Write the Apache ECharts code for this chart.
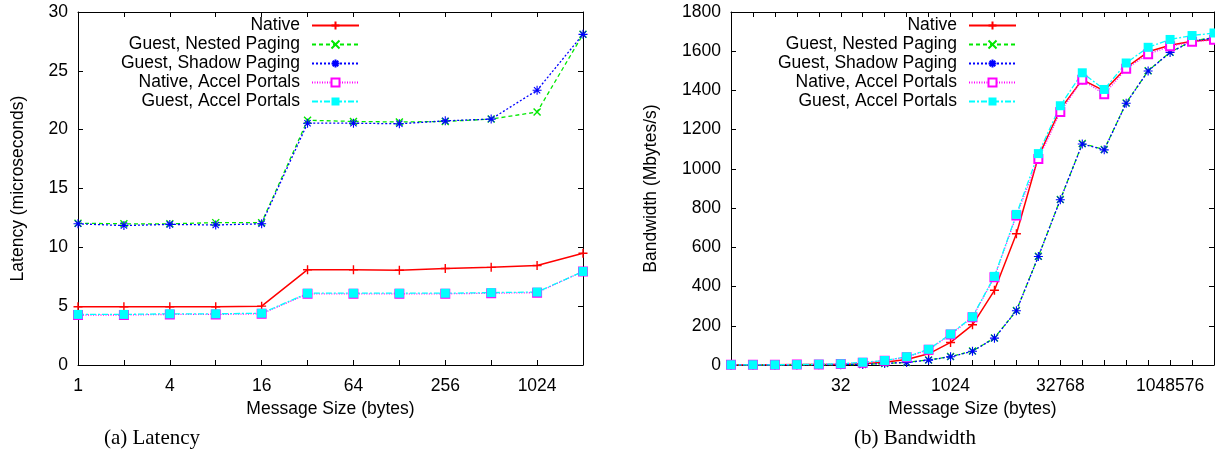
<!DOCTYPE html>
<html>
<head>
<meta charset="utf-8">
<script src="https://cdn.jsdelivr.net/npm/echarts@6/dist/echarts.min.js"></script>
<style>
html, body { margin: 0; padding: 0; background: #fff; }
#chart { width: 1215px; height: 455px; }
</style>
</head>
<body>
<div id="chart"></div>
<script>
// message sizes (bytes)
const latSizes = ['1', '2', '4', '8', '16', '32', '64', '128', '256', '512', '1024', '2048'];
const bwSizes = ['1', '2', '4', '8', '16', '32', '64', '128', '256', '512', '1024', '2048', '4096',
    '8192', '16384', '32768', '65536', '131072', '262144', '524288', '1048576', '2097152', '4194304'];

const seriesNames = ['Native', 'Guest, Nested Paging', 'Guest, Shadow Paging', 'Native, Accel Portals', 'Guest, Accel Portals'];

// latency (microseconds)
const latNative = [4.95, 4.95, 4.95, 4.95, 5.0, 8.1, 8.1, 8.05, 8.2, 8.3, 8.45, 9.5];
const latNested = [12.05, 12.0, 12.0, 12.1, 12.1, 20.8, 20.7, 20.65, 20.7, 20.9, 21.5, 28.1];
const latShadow = [12.0, 11.85, 11.95, 11.9, 12.0, 20.55, 20.55, 20.5, 20.75, 20.9, 23.35, 28.1];
const latNativeAccel = [4.25, 4.25, 4.3, 4.3, 4.35, 6.05, 6.05, 6.05, 6.05, 6.1, 6.15, 7.95];
const latGuestAccel = [4.3, 4.3, 4.35, 4.35, 4.4, 6.1, 6.1, 6.1, 6.1, 6.15, 6.2, 7.95];

// bandwidth (Mbytes/s)
const bwNative = [0.5, 1, 1, 2, 2, 3, 6, 14, 28, 57, 115, 205, 381, 669, 1062, 1305, 1455, 1398, 1516, 1597, 1630, 1651, 1660];
const bwNested = [0, 0, 0, 0, 1, 1, 3, 8, 13, 26, 43, 71, 138, 278, 554, 844, 1129, 1099, 1336, 1500, 1595, 1652, 1670];
const bwShadow = [0, 0, 0, 0, 1, 1, 3, 8, 13, 25, 42, 70, 137, 277, 553, 843, 1127, 1097, 1335, 1499, 1594, 1651, 1668];
const bwNativeAccel = [1, 1, 1, 2, 3, 5, 12, 22, 40, 78, 155, 244, 448, 762, 1050, 1290, 1455, 1380, 1510, 1585, 1625, 1648, 1658];
const bwGuestAccel = [1, 1, 1, 2, 4, 6, 14, 23, 42, 80, 158, 246, 452, 768, 1078, 1322, 1490, 1405, 1540, 1620, 1660, 1680, 1693];

const FONT = 'Liberation Sans, Arial, Helvetica, sans-serif';
const FONT_SIZE = 17.5;

// gnuplot style point types
const SYM_PLUS = 'path://M5 0L5 10M0 5L10 5';
const SYM_CROSS = 'path://M0 0L10 10M10 0L0 10';
const SYM_STAR = 'path://M5 0L5 10M0 5L10 5M1.5 1.5L8.5 8.5M8.5 1.5L1.5 8.5';

const styles = [
    { color: '#ff0000', symbol: SYM_PLUS, size: 9, type: 'solid', width: 1.5, border: 1.4 },
    { color: '#00e800', symbol: SYM_CROSS, size: 7, type: [4, 3], width: 1.3, border: 1.4 },
    { color: '#0000ff', symbol: SYM_STAR, size: 9, type: [2, 2], width: 1.3, border: 1.1 },
    { color: '#ff00ff', symbol: 'emptyRect', size: 8, type: [1, 1.5], width: 1.3, border: 1.3 },
    { color: '#00ffff', symbol: 'rect', size: 9, type: [6, 2, 2, 2], width: 1.3, border: 0 },
]

function makeSeries(data, idx, axisIdx) {
    const st = styles[idx]
    return {
        name: seriesNames[idx],
        type: 'line',
        xAxisIndex: axisIdx,
        yAxisIndex: axisIdx,
        data: data,
        symbol: st.symbol,
        symbolSize: st.size,
        showAllSymbol: true,
        lineStyle: { color: st.color, width: st.width, type: st.type },
        itemStyle: { color: st.color, borderColor: st.color, borderWidth: st.border },
        emphasis: { disabled: true },
    }
}

const axisLine = { show: true, onZero: false, lineStyle: { color: '#000', width: 1 } }
const tickIn = { show: true, inside: true, length: 5, interval: 0, lineStyle: { color: '#000' } }
const labelStyle = { color: '#000', fontSize: FONT_SIZE, fontFamily: FONT }
const nameStyle = { color: '#000', fontSize: FONT_SIZE, fontFamily: FONT }

function xAxes(gridIndex, cats, labelInterval) {
    return [
        {
            gridIndex: gridIndex, type: 'category', data: cats, boundaryGap: false,
            axisLine: axisLine, axisTick: tickIn,
            axisLabel: Object.assign({ interval: labelInterval, margin: 12 }, labelStyle),
            splitLine: { show: false },
            name: 'Message Size (bytes)', nameLocation: 'middle', nameGap: 35, nameTextStyle: nameStyle,
        },
        {
            gridIndex: gridIndex, type: 'category', data: cats, boundaryGap: false, position: 'top',
            axisLine: axisLine, axisTick: tickIn, axisLabel: { show: false }, splitLine: { show: false },
        }
    ]
}

function yAxes(gridIndex, max, interval, name, nameGap) {
    return [
        {
            gridIndex: gridIndex, type: 'value', min: 0, max: max, interval: interval,
            axisLine: axisLine, axisTick: tickIn,
            axisLabel: Object.assign({ margin: 10, formatter: (v) => String(v) }, labelStyle),
            splitLine: { show: false },
            name: name, nameLocation: 'middle', nameGap: nameGap, nameTextStyle: nameStyle,
        },
        {
            gridIndex: gridIndex, type: 'value', min: 0, max: max, interval: interval, position: 'right',
            axisLine: axisLine, axisTick: tickIn, axisLabel: { show: false }, splitLine: { show: false },
        }
    ]
}

function makeLegend(right) {
    return {
        orient: 'vertical',
        align: 'right',
        right: right,
        top: 16,
        padding: 0,
        itemGap: 0,
        itemWidth: 47,
        itemHeight: 10,
        selectedMode: false,
        data: seriesNames,
        textStyle: { color: '#000', fontSize: FONT_SIZE, fontFamily: FONT, lineHeight: 19, padding: [0, 7, 0, 0] },
    }
}

const chart = echarts.init(document.getElementById('chart'))

const option = {
    animation: false,
    backgroundColor: '#fff',
    grid: [
        { left: 78, top: 12, width: 505, height: 353 },
        { left: 731, top: 12, width: 483, height: 353 },
    ],
    xAxis: [].concat(
        xAxes(0, latSizes, 1),
        xAxes(1, bwSizes, (index) => index > 0 && index % 5 === 0)
    ),
    yAxis: [].concat(
        yAxes(0, 30, 5, 'Latency (microseconds)', 51),
        yAxes(1, 1800, 200, 'Bandwidth (Mbytes/s)', 71)
    ),
    legend: [makeLegend(1215 - 360), makeLegend(1215 - 1017)],
    series: [
        makeSeries(latNative, 0, 0),
        makeSeries(latNested, 1, 0),
        makeSeries(latShadow, 2, 0),
        makeSeries(latNativeAccel, 3, 0),
        makeSeries(latGuestAccel, 4, 0),
        makeSeries(bwNative, 0, 2),
        makeSeries(bwNested, 1, 2),
        makeSeries(bwShadow, 2, 2),
        makeSeries(bwNativeAccel, 3, 2),
        makeSeries(bwGuestAccel, 4, 2),
    ],
    graphic: [
        { type: 'text', x: 152, y: 438, style: { text: '(a) Latency', fill: '#000', font: '21px "Liberation Serif", "Times New Roman", serif', textAlign: 'center', textVerticalAlign: 'middle' } },
        { type: 'text', x: 915, y: 438, style: { text: '(b) Bandwidth', fill: '#000', font: '21px "Liberation Serif", "Times New Roman", serif', textAlign: 'center', textVerticalAlign: 'middle' } },
    ],
}

chart.setOption(option)
</script>
</body>
</html>
